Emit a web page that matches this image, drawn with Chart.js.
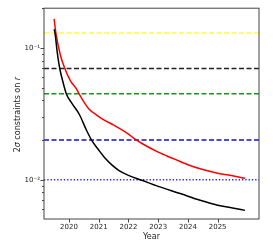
<!DOCTYPE html>
<html>
<head>
<meta charset="utf-8">
<script src="https://cdn.jsdelivr.net/npm/chart.js@4.4.1/dist/chart.umd.min.js"></script>
<style>
  body { margin: 0; background: #fff; }
</style>
</head>
<body>
<canvas id="chart" width="273" height="247"></canvas>
<script>
// red curve
const redYears  = [2019.50, 2019.56, 2019.71, 2019.86, 2020.06, 2020.25, 2020.34, 2020.50, 2020.67, 2020.93, 2021.17, 2021.50, 2022.00, 2022.16, 2022.50, 2023.00, 2023.50, 2023.74, 2024.00, 2024.41, 2025.00, 2025.50, 2025.92];
const redValues = [0.167, 0.130, 0.0886, 0.070, 0.0558, 0.049, 0.045, 0.039, 0.0345, 0.031, 0.0285, 0.026, 0.0222, 0.0208, 0.0186, 0.0162, 0.0145, 0.01375, 0.0130, 0.0121, 0.0112, 0.0107, 0.01025];

// black curve
const blackYears  = [2019.50, 2019.53, 2019.60, 2019.69, 2019.80, 2019.91, 2020.10, 2020.35, 2020.58, 2020.76, 2021.00, 2021.21, 2021.45, 2021.67, 2022.00, 2022.45, 2023.00, 2023.74, 2024.41, 2025.00, 2025.50, 2025.92];
const blackValues = [0.139, 0.130, 0.095, 0.070, 0.055, 0.045, 0.038, 0.0313, 0.0240, 0.020, 0.0168, 0.0146, 0.0129, 0.0118, 0.0108, 0.0099, 0.0089, 0.00785, 0.00698, 0.0064, 0.0061, 0.00585];

// horizontal reference levels
const limitValues = [0.13, 0.07, 0.045, 0.02, 0.01];
const limitColors = ["#ffff33", "#222222", "#119911", "#1111cc", "#2222ff"];
const limitDashes = [[5, 2.5], [5, 2.5], [5, 2.5], [5, 2.5], [1.3, 2]];

const xTicks = [2020, 2021, 2022, 2023, 2024, 2025];
const yMajorTicks = [0.01, 0.1];
const yMinorTicks = [0.006, 0.007, 0.008, 0.009, 0.02, 0.03, 0.04, 0.05, 0.06, 0.07, 0.08, 0.09, 0.2];
const yMajorLabels = ["10⁻²", "10⁻¹"];

const xMin = 2019.16, xMax = 2026.39;
const yMin = 0.00503, yMax = 0.201;

const FONT = "DejaVu Sans";
const AXIS = "#444";

function points(xs, ys) {
  return xs.map((x, i) => ({ x: x, y: ys[i] }));
}

const datasets = limitValues.map((v, i) => ({
  data: [{ x: xMin, y: v }, { x: xMax, y: v }],
  borderColor: limitColors[i],
  borderWidth: 1.5,
  borderDash: limitDashes[i],
  pointRadius: 0,
  order: 2
}));
datasets.push({
  data: points(redYears, redValues),
  borderColor: "#ff0000",
  borderWidth: 1.5,
  pointRadius: 0,
  cubicInterpolationMode: "monotone",
  order: 1
});
datasets.push({
  data: points(blackYears, blackValues),
  borderColor: "#000000",
  borderWidth: 1.5,
  pointRadius: 0,
  cubicInterpolationMode: "monotone",
  order: 0
});

// frame, tick marks and axis titles
const framePlugin = {
  id: "frame",
  afterDraw(chart) {
    const ctx = chart.ctx;
    const a = chart.chartArea;
    const xs = chart.scales.x, ys = chart.scales.y;
    ctx.save();
    ctx.strokeStyle = AXIS;
    ctx.lineWidth = 1;
    ctx.strokeRect(a.left, a.top, a.right - a.left, a.bottom - a.top);

    ctx.beginPath();
    xTicks.forEach(t => {
      const px = Math.round(xs.getPixelForValue(t)) + 0.5;
      ctx.moveTo(px, a.bottom);
      ctx.lineTo(px, a.bottom + 3.5);
    });
    yMajorTicks.forEach(t => {
      const py = Math.round(ys.getPixelForValue(t)) + 0.5;
      ctx.moveTo(a.left, py);
      ctx.lineTo(a.left - 3.5, py);
    });
    yMinorTicks.forEach(t => {
      const py = Math.round(ys.getPixelForValue(t)) + 0.5;
      ctx.moveTo(a.left, py);
      ctx.lineTo(a.left - 2, py);
    });
    ctx.stroke();

    ctx.fillStyle = "#222";
    ctx.font = "8px '" + FONT + "'";
    ctx.textAlign = "center";
    ctx.textBaseline = "alphabetic";
    ctx.fillText("Year", (a.left + a.right) / 2, 239);

    // y title: 2σ constraints on r (σ and r italic)
    const parts = [["2", false], ["σ", true], [" constraints on ", false], ["r", true]];
    let total = 0;
    parts.forEach(p => {
      ctx.font = (p[1] ? "italic " : "") + "8px '" + FONT + "'";
      total += ctx.measureText(p[0]).width;
    });
    ctx.translate(20, (a.top + a.bottom) / 2 + 1);
    ctx.rotate(-Math.PI / 2);
    ctx.textAlign = "left";
    let off = -total / 2;
    parts.forEach(p => {
      ctx.font = (p[1] ? "italic " : "") + "8px '" + FONT + "'";
      ctx.fillText(p[0], off, 0);
      off += ctx.measureText(p[0]).width;
    });
    ctx.restore();
  }
};

new Chart(document.getElementById("chart").getContext("2d"), {
  type: "line",
  data: { datasets: datasets },
  options: {
    responsive: false,
    animation: false,
    layout: { padding: { top: 6, right: 14, left: 0, bottom: 0 } },
    plugins: { legend: { display: false }, tooltip: { enabled: false } },
    scales: {
      x: {
        type: "linear",
        min: xMin,
        max: xMax,
        grid: { display: false, drawTicks: false },
        border: { display: false },
        afterBuildTicks: s => { s.ticks = xTicks.map(v => ({ value: v })); },
        afterFit: s => { s.height = 28; },
        ticks: {
          padding: 4,
          maxRotation: 0,
          autoSkip: false,
          color: "#222",
          font: { family: FONT, size: 7 },
          callback: v => String(v)
        }
      },
      y: {
        type: "logarithmic",
        min: yMin,
        max: yMax,
        grid: { display: false, drawTicks: false },
        border: { display: false },
        afterBuildTicks: s => { s.ticks = yMajorTicks.map(v => ({ value: v })); },
        afterFit: s => { s.width = 44; },
        ticks: {
          padding: 4,
          autoSkip: false,
          color: "#222",
          font: { family: FONT, size: 7 },
          callback: v => yMajorLabels[yMajorTicks.indexOf(v)] || ""
        }
      }
    }
  },
  plugins: [framePlugin]
});
</script>
</body>
</html>
